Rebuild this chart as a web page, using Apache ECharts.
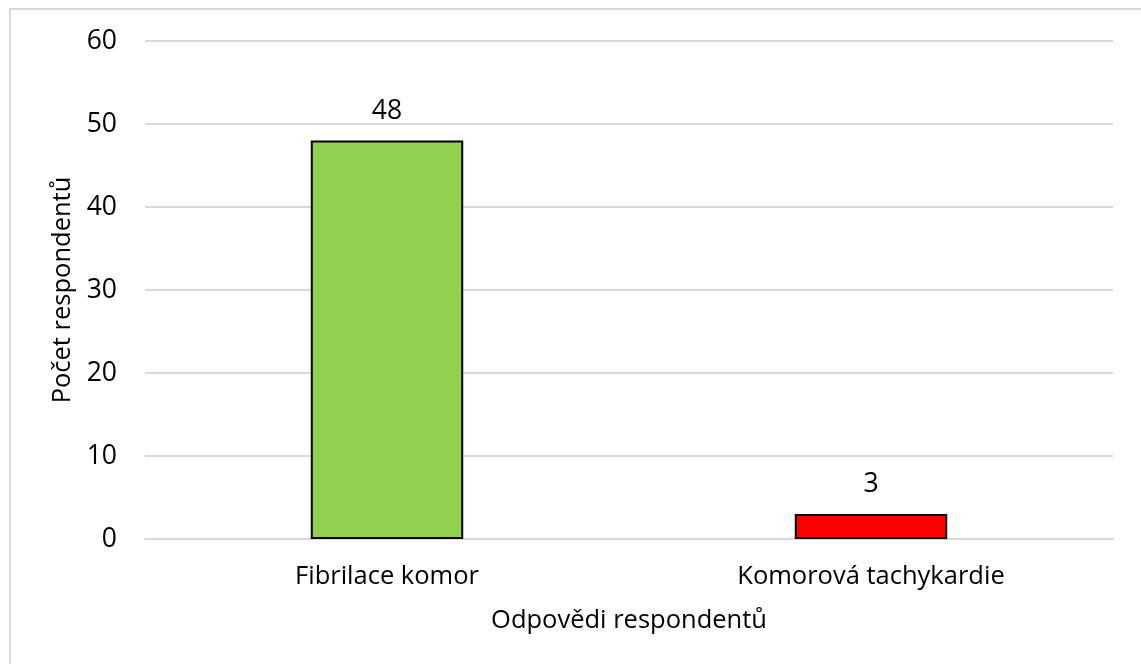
<!DOCTYPE html>
<html>
<head>
<meta charset="utf-8">
<script src="https://cdn.jsdelivr.net/npm/echarts@6/dist/echarts.min.js"></script>
<style>
html,body{margin:0;padding:0;background:#fff;}
#chart{width:1141px;height:664px;}
</style>
</head>
<body>
<div id="chart"></div>
<script>
const categories = ['Fibrilace komor', 'Komorová tachykardie'];
const values = [48, 3];
const barColors = ['#92d050', '#ff0000'];
const yTicks = { min: 0, max: 60, interval: 10 };
const xTitle = 'Odpovědi respondentů';
const yTitle = 'Počet respondentů';

const font = '"Open Sans", "Noto Sans", sans-serif';
const fs = 25.5;
const fsNum = 26.5;
const chart = echarts.init(document.getElementById('chart'));
chart.setOption({
  backgroundColor: '#fff',
  animation: false,
  graphic: [{
    type: 'rect', silent: true,
    shape: { x: 10, y: 9, width: 1200, height: 720 },
    style: { fill: 'none', stroke: '#d9d9d9', lineWidth: 2 }
  }],
  grid: { left: 145, right: 28, top: 41, bottom: 125 },
  xAxis: {
    type: 'category',
    data: categories,
    name: xTitle,
    nameLocation: 'middle',
    nameGap: 69,
    nameTextStyle: { fontFamily: font, fontSize: fs, color: '#000' },
    axisLine: { lineStyle: { color: '#d9d9d9', width: 2 } },
    axisTick: { show: false },
    axisLabel: { fontFamily: font, fontSize: fs, color: '#000', margin: 25 }
  },
  yAxis: {
    type: 'value',
    min: yTicks.min, max: yTicks.max, interval: yTicks.interval,
    name: yTitle,
    nameLocation: 'middle',
    nameGap: 69,
    nameTextStyle: { fontFamily: font, fontSize: fs, color: '#000' },
    axisLine: { show: false },
    axisTick: { show: false },
    axisLabel: { fontFamily: font, fontSize: fsNum, color: '#000', margin: 28 },
    splitLine: { lineStyle: { color: '#d9d9d9', width: 2 } }
  },
  series: [{
    type: 'bar',
    barWidth: '31.5%',
    data: values.map((v, i) => ({ value: v, itemStyle: { color: barColors[i] } })),
    itemStyle: { borderColor: '#000', borderWidth: 2 },
    label: { show: true, position: 'top', distance: 16, fontFamily: font, fontSize: fsNum, color: '#000' }
  }]
});
</script>
</body>
</html>
